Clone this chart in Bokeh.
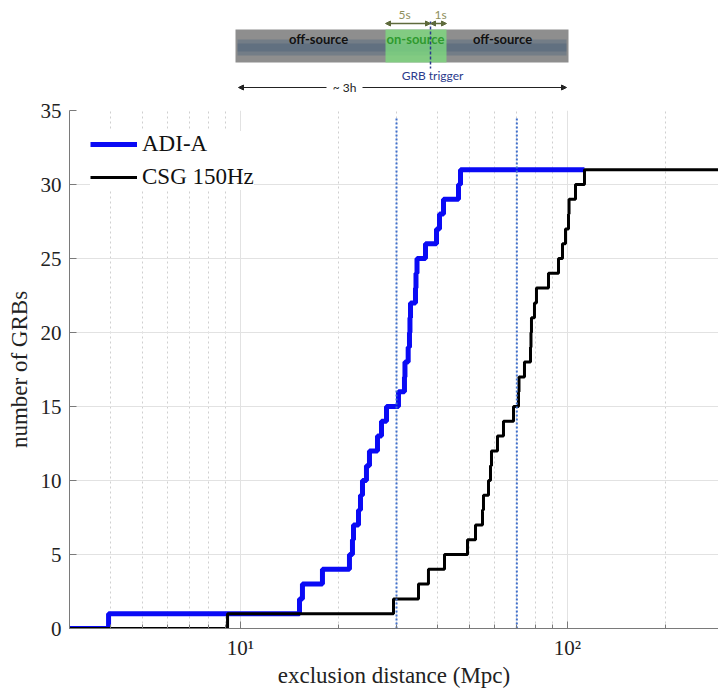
from bokeh.plotting import figure
from bokeh.models import Range1d, FixedTicker, Arrow, NormalHead
from bokeh.layouts import column
from bokeh.embed import file_html
from bokeh.resources import INLINE
from bokeh.core.properties import value

# ---------------- data ----------------
# exclusion distance (Mpc) at which the cumulative count steps up
adi_x = [3.0, 3.95, 15.15, 15.47, 17.81, 21.54, 22.0, 22.16, 22.96, 23.28, 23.61,
         24.28, 24.8, 26.24, 26.99, 27.96, 30.42, 31.73, 31.84, 32.57, 32.87, 32.98,
         33.11, 34.29, 34.41, 34.66, 36.79, 39.76, 40.61, 41.77, 46.42, 47.08, 112.7]
adi_y = [0, 1, 2, 3, 4, 5, 6, 7, 8, 9, 10, 11, 12, 13, 14, 15, 16, 17, 18, 19, 20,
         21, 22, 23, 24, 25, 26, 27, 28, 29, 30, 31, 31]

csg_x = [3.0, 9.13, 29.37, 35.02, 37.57, 42.06, 49.46, 52.33, 54.96, 55.35, 57.34,
         58.15, 58.56, 61.08, 63.72, 68.38, 70.82, 71.07, 73.87, 77.07, 77.33, 77.6,
         79.26, 80.38, 87.48, 93.87, 96.54, 98.6, 100.7, 101.1, 105.8, 112.7, 290.0]
csg_y = [0, 1, 2, 3, 4, 5, 6, 7, 8, 9, 10, 11, 12, 13, 14, 15, 16, 17, 18, 19, 20,
         21, 22, 23, 24, 25, 26, 27, 28, 29, 30, 31, 31]

ref_lines = [30, 70]          # dotted reference distances (Mpc)
ref_top = 34.5

y_ticks = [0, 5, 10, 15, 20, 25, 30, 35]
x_major = [10, 100]
x_minor = [3, 4, 5, 6, 7, 8, 9, 20, 30, 40, 50, 60, 70, 80, 90, 200]
x_labels = {10: "10\u00b9", 100: "10\u00b2"}

series_names = ["ADI-A", "CSG 150Hz"]

# ---------------- layout constants ----------------
W = 718
HEAD_H = 95
MAIN_H = 690 - HEAD_H
FRAME_L = 69
SERIF = "Liberation Serif"
SANS = "Lato"

# ---------------- header schematic (page-pixel coordinates) ----------------
hd = figure(width=W, height=HEAD_H, x_range=Range1d(FRAME_L, W), y_range=Range1d(HEAD_H, 0),
            output_backend="svg", toolbar_location=None, min_border=0,
            min_border_left=FRAME_L, min_border_right=0,
            x_axis_location=None, y_axis_location=None)
hd.grid.visible = False
hd.outline_line_color = None

hd.quad(left=235, right=568, top=29, bottom=62, fill_color="#8e8e8e", line_color=None)
hd.quad(left=237, right=566, top=39, bottom=55, fill_color="#5d6f82", fill_alpha=0.55, line_color=None)
hd.quad(left=237, right=566, top=43, bottom=51, fill_color="#50647a", fill_alpha=0.5, line_color=None)
hd.quad(left=385, right=446, top=29, bottom=62, fill_color="#7ee37e", fill_alpha=0.72, line_color=None)

hd.text(x=[318, 502], y=[38, 38], text=["off-source", "off-source"],
        text_font=value(SANS), text_font_style="bold", text_font_size="13px",
        text_align="center", text_baseline="middle", text_color="#111111")
hd.text(x=[415], y=[38], text=["on-source"], text_font=value(SANS), text_font_style="bold",
        text_font_size="13px", text_align="center", text_baseline="middle", text_color="#2f9a2f")
hd.text(x=[404, 440], y=[14, 14], text=["5s", "1s"], text_font=value(SANS),
        text_font_size="12px", text_align="center", text_baseline="middle", text_color="#8f8f5c")
hd.text(x=[432], y=[75], text=["GRB trigger"], text_font=value(SANS),
        text_font_size="12px", text_align="center", text_baseline="middle", text_color="#2b3a8c")
hd.text(x=[344], y=[87], text=["~ 3h"], text_font=value(SANS),
        text_font_size="12px", text_align="center", text_baseline="middle", text_color="#222222")

olive = "#5f6b3c"
for xs, xe in [(385, 430), (430, 446)]:
    hd.add_layout(Arrow(start=NormalHead(size=5, fill_color=olive, line_color=olive),
                        end=NormalHead(size=5, fill_color=olive, line_color=olive),
                        x_start=xs, y_start=23, x_end=xe, y_end=23,
                        line_color=olive, line_width=1.5))
for xs, xe in [(326, 238), (362, 566)]:
    hd.add_layout(Arrow(end=NormalHead(size=5, fill_color="#222222", line_color="#222222"),
                        x_start=xs, y_start=87, x_end=xe, y_end=87,
                        line_color="#222222", line_width=1))
hd.segment(x0=[430], y0=[21], x1=[430], y1=[68], line_color="#2b3a8c", line_dash="3 2", line_width=1.5)

# ---------------- main chart ----------------
p = figure(width=W, height=MAIN_H, x_axis_type="log",
           x_range=Range1d(3, 289.6), y_range=Range1d(0, 35),
           output_backend="svg", toolbar_location=None,
           min_border_left=FRAME_L, min_border_right=0, min_border_top=15, min_border_bottom=62)
p.outline_line_color = None

p.step(adi_x, adi_y, mode="after", line_color="#0a0af5", line_width=5, legend_label=series_names[0])
p.step(csg_x, csg_y, mode="after", line_color="#000000", line_width=3, legend_label=series_names[1])
p.segment(x0=ref_lines, y0=[0] * len(ref_lines), x1=ref_lines, y1=[ref_top] * len(ref_lines),
          line_color="#3f6fcc", line_dash="2 2", line_width=2)

p.xaxis.ticker = FixedTicker(ticks=x_major, minor_ticks=x_minor)
p.xaxis.major_label_overrides = x_labels
p.yaxis.ticker = FixedTicker(ticks=y_ticks)

p.xaxis.axis_label = "exclusion distance (Mpc)"
p.yaxis.axis_label = "number of GRBs"

for ax in p.axis:
    ax.axis_line_color = "#7a7a7a"
    ax.major_tick_line_color = "#7a7a7a"
    ax.minor_tick_line_color = "#7a7a7a"
    ax.major_tick_in = 7
    ax.major_tick_out = 0
    ax.minor_tick_in = 4
    ax.minor_tick_out = 0
    ax.major_label_text_font = SERIF
    ax.major_label_text_font_size = "21px"
    ax.major_label_text_color = "#222222"
    ax.axis_label_text_font = SERIF
    ax.axis_label_text_font_size = "23px"
    ax.axis_label_text_font_style = "normal"
    ax.axis_label_text_color = "#222222"
p.yaxis.minor_tick_line_color = None
p.yaxis.major_label_standoff = 8
p.xaxis.major_label_standoff = 7
p.yaxis.axis_label_standoff = 6
p.xaxis.axis_label_standoff = 0

p.xgrid.grid_line_color = "#e2e2e2"
p.xgrid.minor_grid_line_color = "#cfcfcf"
p.xgrid.minor_grid_line_dash = "2 3"
p.ygrid.grid_line_color = "#e2e2e2"

lg = p.legend[0]
lg.location = "top_left"
lg.margin = 21
lg.padding = 10
lg.glyph_width = 47
lg.glyph_height = 22
lg.spacing = 7
lg.label_standoff = 5
lg.label_text_font = SERIF
lg.label_text_font_size = "23px"
lg.label_text_color = "#111111"
lg.border_line_color = None
lg.background_fill_alpha = 1.0

layout = column(hd, p, spacing=0)
open("out.html", "w").write(file_html(layout, INLINE))
